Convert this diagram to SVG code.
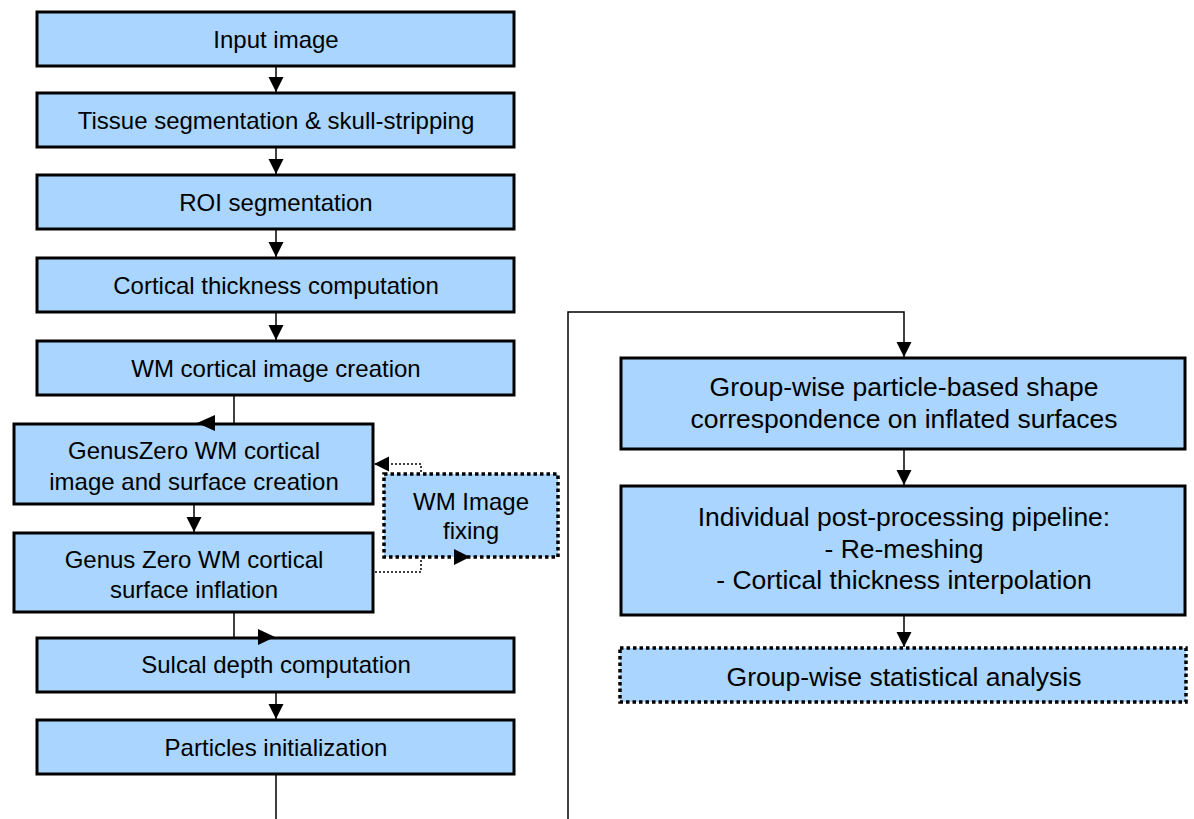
<svg xmlns="http://www.w3.org/2000/svg" width="1194" height="819" viewBox="0 0 1194 819">
<defs>
<style>
.box{fill:#a9d5ff;stroke:#000;stroke-width:3}
.dot{fill:#a9d5ff;stroke:#000;stroke-width:3.5;stroke-dasharray:3.5 3}
.t{font-family:"Liberation Sans",Arial,sans-serif;font-size:24px;fill:#000;text-anchor:middle}
.tr{font-family:"Liberation Sans",Arial,sans-serif;font-size:26.5px;fill:#000;text-anchor:middle}
.ln{fill:none;stroke:#000;stroke-width:1.5}
.dl{fill:none;stroke:#000;stroke-width:1.5;stroke-dasharray:2 2}
</style>
<marker id="ah" viewBox="0 0 10 10" refX="10" refY="5" markerWidth="10" markerHeight="10" markerUnits="userSpaceOnUse" orient="auto" overflow="visible">
<path d="M-5,-2.5 L10,5 L-5,12.5 z" fill="#000"/>
</marker>
</defs>
<g id="n1"><rect class="box" x="37" y="12" width="477" height="54"/><text class="t" x="276" y="47.5">Input image</text></g>
<g id="n2"><rect class="box" x="37" y="93" width="477" height="54"/><text class="t" x="276" y="129">Tissue segmentation &amp; skull-stripping</text></g>
<g id="n3"><rect class="box" x="37" y="175" width="477" height="54"/><text class="t" x="276" y="211">ROI segmentation</text></g>
<g id="n4"><rect class="box" x="37" y="258" width="477" height="54"/><text class="t" x="276" y="294">Cortical thickness computation</text></g>
<g id="n5"><rect class="box" x="37" y="341" width="477" height="54"/><text class="t" x="276" y="377">WM cortical image creation</text></g>
<g id="n6"><rect class="box" x="14" y="424" width="359" height="80"/><text class="t" x="194" y="459">GenusZero WM cortical</text><text class="t" x="194" y="490">image and surface creation</text></g>
<g id="n7"><rect class="box" x="14" y="533" width="359" height="79"/><text class="t" x="194" y="568">Genus Zero WM cortical</text><text class="t" x="194" y="598">surface inflation</text></g>
<g id="n8"><rect class="box" x="37" y="638" width="477" height="54"/><text class="t" x="276" y="673">Sulcal depth computation</text></g>
<g id="n9"><rect class="box" x="37" y="720" width="477" height="54"/><text class="t" x="276" y="756">Particles initialization</text></g>
<g id="n10"><rect class="dot" x="384" y="474" width="174" height="83"/><text class="t" x="471" y="510">WM Image</text><text class="t" x="471" y="539">fixing</text></g>
<g id="n11"><rect class="box" x="621" y="358" width="564" height="91"/><text class="tr" x="904" y="395.5">Group-wise particle-based shape</text><text class="tr" x="904" y="427.5">correspondence on inflated surfaces</text></g>
<g id="n12"><rect class="box" x="621" y="486" width="564" height="129"/><text class="tr" x="904" y="525.5">Individual post-processing pipeline:</text><text class="tr" x="904" y="557.5">- Re-meshing</text><text class="tr" x="904" y="588.5">- Cortical thickness interpolation</text></g>
<g id="n13"><rect class="dot" x="620" y="648" width="566" height="54"/><text class="tr" x="904" y="686">Group-wise statistical analysis</text></g>
<g id="connectors">
<path class="ln" d="M276,66 V92" marker-end="url(#ah)"/>
<path class="ln" d="M276,147 V174" marker-end="url(#ah)"/>
<path class="ln" d="M276,229 V257" marker-end="url(#ah)"/>
<path class="ln" d="M276,312 V340" marker-end="url(#ah)"/>
<path class="ln" d="M234,396 V423"/>
<path d="M197,423 L215,415 L215,431 z" fill="#000"/>
<path class="ln" d="M194,505 V532" marker-end="url(#ah)"/>
<path class="ln" d="M234,613 V637"/>
<path d="M275,637 L258,629 L258,645 z" fill="#000"/>
<path class="ln" d="M276,693 V719" marker-end="url(#ah)"/>
<path class="ln" d="M276,775 V819"/>
<path class="ln" d="M568,819 V312 H904 V357" marker-end="url(#ah)"/>
<path class="ln" d="M904,450 V485" marker-end="url(#ah)"/>
<path class="ln" d="M904,616 V647" marker-end="url(#ah)"/>
<path class="dl" d="M421,472 V464 H374" marker-end="url(#ah)"/>
<path class="dl" d="M375,572 H421 V559"/>
<path d="M470,557 L454,549 L454,565 z" fill="#000"/>
</g>
</svg>
